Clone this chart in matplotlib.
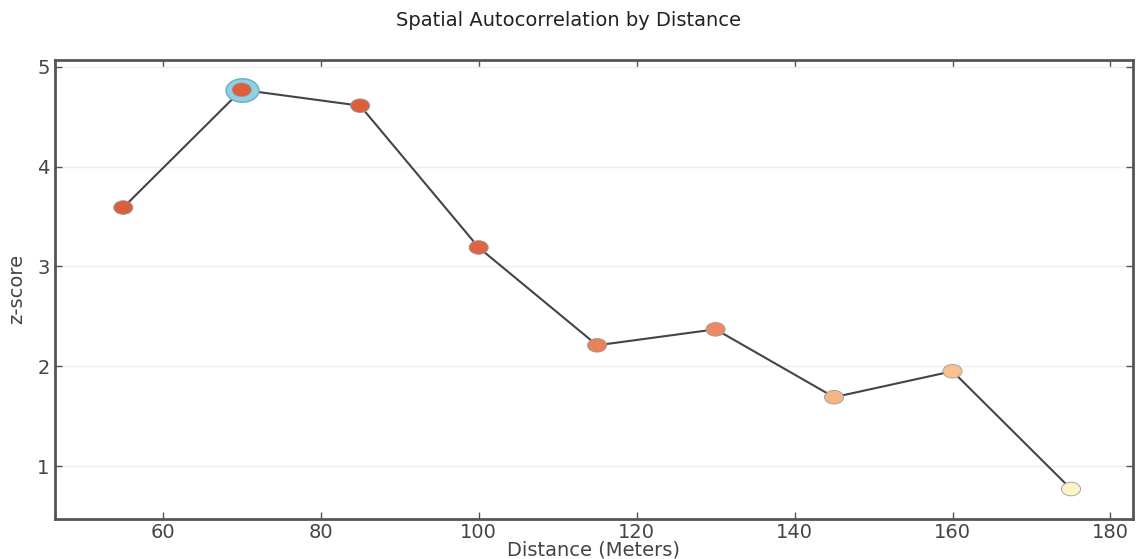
import matplotlib
matplotlib.use('Agg')
import matplotlib.pyplot as plt
from matplotlib.path import Path
from matplotlib.transforms import Affine2D

# Datos
distance = [55, 70, 85, 100, 115, 130, 145, 160, 175]
zscore = [3.59, 4.77, 4.61, 3.19, 2.21, 2.37, 1.69, 1.95, 0.77]
colors = ['#dc5f3d', '#dc5f3d', '#dc5f3d', '#de6443', '#e9815b', '#ec8b63',
          '#f4b686', '#f7c290', '#fdf3c6']
peak_idx = 1
xticks = [60, 80, 100, 120, 140, 160, 180]
yticks = [1, 2, 3, 4, 5]

# marcador eliptico (la imagen original esta estirada en horizontal)
ellipse = Path.unit_circle().transformed(Affine2D().scale(1.4, 1.0))

txt = '#444444'
fig = plt.figure(figsize=(11.36, 5.59), dpi=100)
ax = fig.add_axes([0.048, 0.0716, 0.949, 0.8214])

ax.plot(distance, zscore, color='#444444', lw=1.5, zorder=2)
ax.scatter([distance[peak_idx]], [zscore[peak_idx]], s=560, marker=ellipse,
           color='#8fd0e2', edgecolor='#6aaec6', lw=1, zorder=3)
ax.scatter(distance, zscore, s=190, marker=ellipse, c=colors,
           edgecolor='#9a9a9a', lw=0.6, zorder=4)

ax.set_xlim(46.3, 182.8)
ax.set_ylim(0.47, 5.07)
ax.set_xticks(xticks)
ax.set_yticks(yticks)
ax.yaxis.grid(True, color='#eeeeee', lw=1)
ax.set_axisbelow(True)
ax.tick_params(direction='in', top=True, right=True, length=5, width=1,
               colors='#555555', labelcolor=txt, labelsize=14)
ax.tick_params(axis='x', pad=3)
for s in ax.spines.values():
    s.set_color('#555555')
    s.set_linewidth(2)

ax.set_xlabel('Distance (Meters)', fontsize=14, color=txt, labelpad=-1)
ax.set_ylabel('z-score', fontsize=14, color=txt, labelpad=8,
              family=['Liberation Sans Narrow', 'DejaVu Sans'])
fig.suptitle('Spatial Autocorrelation by Distance', fontsize=14, color='#222222',
             y=0.98, family='DejaVu Sans')

plt.savefig('out.png', dpi=100)
